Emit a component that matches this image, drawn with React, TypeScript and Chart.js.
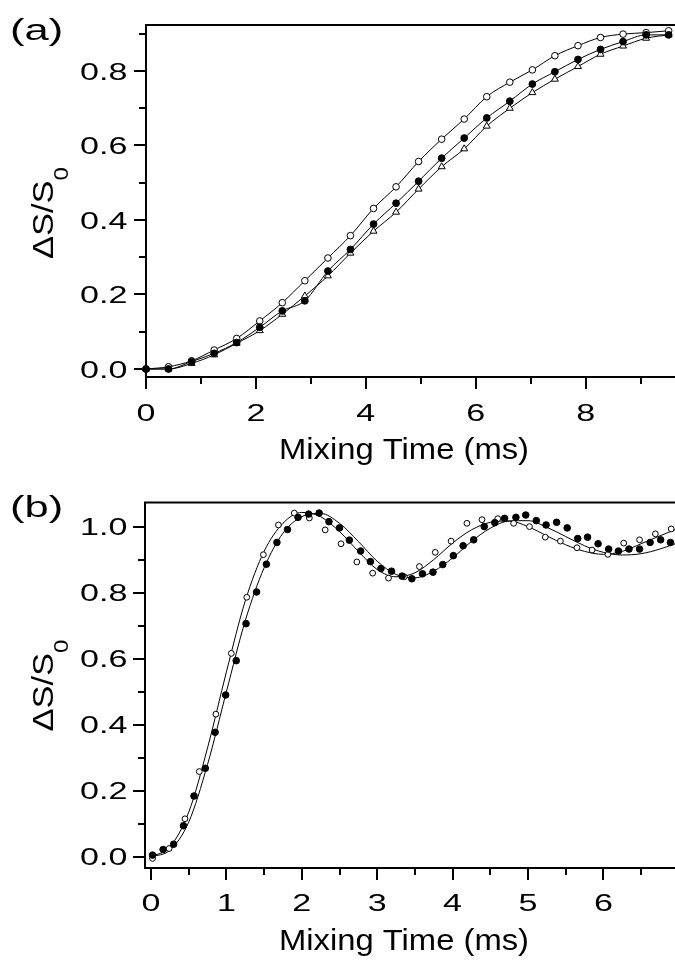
import React, { useEffect, useRef } from "react";
import { Chart, registerables } from "chart.js";

Chart.register(...registerables);

const FONT = '"Liberation Sans", Arial, Helvetica, sans-serif';

// ---------- Panel (a) ----------
const A_X = [0, 0.41, 0.83, 1.24, 1.65, 2.07, 2.48, 2.89, 3.31, 3.72, 4.14, 4.55, 4.96, 5.38, 5.79, 6.2, 6.62, 7.03, 7.44, 7.86, 8.27, 8.68, 9.1, 9.51];
const A_OPEN = [0.0, 0.006, 0.022, 0.051, 0.082, 0.129, 0.178, 0.237, 0.298, 0.358, 0.431, 0.489, 0.557, 0.617, 0.671, 0.731, 0.77, 0.803, 0.841, 0.868, 0.89, 0.899, 0.903, 0.908];
const A_FILLED = [0.0, 0.0, 0.02, 0.042, 0.071, 0.112, 0.156, 0.183, 0.263, 0.321, 0.389, 0.445, 0.504, 0.566, 0.62, 0.674, 0.719, 0.765, 0.798, 0.831, 0.858, 0.879, 0.897, 0.897];
const A_TRIANGLE = [0.0, 0.0, 0.015, 0.038, 0.069, 0.103, 0.147, 0.196, 0.25, 0.311, 0.37, 0.421, 0.483, 0.543, 0.591, 0.652, 0.7, 0.742, 0.778, 0.812, 0.845, 0.867, 0.888, 0.897];
const A_X_MAJOR = [0, 2, 4, 6, 8];
const A_X_MINOR = [1, 3, 5, 7, 9];
const A_X_LABELS = ["0", "2", "4", "6", "8"];
const A_Y_MAJOR = [0, 0.2, 0.4, 0.6, 0.8];
const A_Y_MINOR = [0.1, 0.3, 0.5, 0.7, 0.9];
const A_Y_LABELS = ["0.0", "0.2", "0.4", "0.6", "0.8"];

// ---------- Panel (b) ----------
const B_FILLED_X = [0.02, 0.16, 0.3, 0.43, 0.57, 0.72, 0.85, 0.99, 1.13, 1.26, 1.4, 1.53, 1.67, 1.81, 1.95, 2.09, 2.23, 2.36, 2.5, 2.63, 2.78, 2.91, 3.05, 3.19, 3.33, 3.46, 3.6, 3.74, 3.87, 4.01, 4.14, 4.28, 4.42, 4.56, 4.69, 4.84, 4.97, 5.11, 5.24, 5.38, 5.52, 5.66, 5.79, 5.93, 6.07, 6.2, 6.34, 6.48, 6.62, 6.76, 6.89];
const B_FILLED_Y = [0.005, 0.022, 0.038, 0.094, 0.184, 0.268, 0.377, 0.49, 0.594, 0.706, 0.802, 0.886, 0.952, 0.991, 1.028, 1.038, 1.041, 1.015, 0.996, 0.959, 0.926, 0.894, 0.873, 0.865, 0.85, 0.842, 0.857, 0.862, 0.885, 0.912, 0.942, 0.96, 1.0, 1.012, 1.025, 1.028, 1.035, 1.018, 1.005, 1.013, 0.996, 0.964, 0.968, 0.948, 0.932, 0.926, 0.932, 0.932, 0.952, 0.96, 0.952];
const B_OPEN_X = [0.02, 0.24, 0.45, 0.64, 0.86, 1.065, 1.27, 1.49, 1.69, 1.9, 2.1, 2.31, 2.52, 2.73, 2.94, 3.15, 3.36, 3.56, 3.77, 3.98, 4.19, 4.39, 4.6, 4.81, 5.02, 5.23, 5.43, 5.65, 5.85, 6.06, 6.27, 6.48, 6.69, 6.9];
const B_OPEN_Y = [-0.005, 0.025, 0.115, 0.258, 0.432, 0.616, 0.786, 0.915, 1.005, 1.041, 1.026, 0.99, 0.948, 0.893, 0.859, 0.844, 0.848, 0.879, 0.922, 0.956, 1.01, 1.021, 1.024, 1.01, 1.0, 0.968, 0.956, 0.936, 0.929, 0.916, 0.95, 0.96, 0.978, 0.993];
const B_FIT_X = [0, 0.25, 0.5, 0.75, 1.0, 1.25, 1.5, 1.75, 2.0, 2.25, 2.5, 2.75, 3.0, 3.25, 3.5, 3.75, 4.0, 4.25, 4.5, 4.75, 5.0, 5.25, 5.5, 5.75, 6.0, 6.25, 6.5, 6.75, 7.0];
const B_FIT_OPEN = [0.0, 0.03, 0.135, 0.33, 0.56, 0.775, 0.925, 1.01, 1.043, 1.03, 0.985, 0.925, 0.87, 0.848, 0.86, 0.9, 0.95, 0.99, 1.013, 1.017, 1.0, 0.972, 0.945, 0.925, 0.916, 0.925, 0.948, 0.972, 0.995];
const B_FIT_FILLED = [0.0, 0.02, 0.105, 0.28, 0.5, 0.715, 0.875, 0.98, 1.03, 1.04, 1.01, 0.955, 0.895, 0.855, 0.845, 0.865, 0.905, 0.955, 0.995, 1.017, 1.018, 0.998, 0.97, 0.942, 0.922, 0.914, 0.918, 0.932, 0.952];
const B_X_MAJOR = [0, 1, 2, 3, 4, 5, 6];
const B_X_MINOR = [0.5, 1.5, 2.5, 3.5, 4.5, 5.5, 6.5];
const B_X_LABELS = ["0", "1", "2", "3", "4", "5", "6"];
const B_Y_MAJOR = [0, 0.2, 0.4, 0.6, 0.8, 1.0];
const B_Y_MINOR = [0.1, 0.3, 0.5, 0.7, 0.9];
const B_Y_LABELS = ["0.0", "0.2", "0.4", "0.6", "0.8", "1.0"];

const pts = (xs: number[], ys: number[]) => xs.map((x, i) => ({ x, y: ys[i] }));

function drawText(ctx: CanvasRenderingContext2D, text: string, x: number, y: number, font: string, align: CanvasTextAlign, sx: number) {
  ctx.save();
  ctx.translate(x, y);
  ctx.scale(sx, 1);
  ctx.font = font;
  ctx.textAlign = align;
  ctx.textBaseline = "alphabetic";
  ctx.fillText(text, 0, 0);
  ctx.restore();
}

function framePlugin(cfg: any) {
  return {
    id: "frame_" + cfg.panel,
    afterDraw(chart: any) {
      const ctx: CanvasRenderingContext2D = chart.ctx;
      const { left, right, top, bottom } = chart.chartArea;
      const xs = chart.scales.x;
      const ys = chart.scales.y;
      ctx.save();
      ctx.strokeStyle = "#000";
      ctx.fillStyle = "#000";
      ctx.lineWidth = 2;
      ctx.beginPath();
      ctx.moveTo(left, top);
      ctx.lineTo(right, top);
      ctx.lineTo(right, bottom);
      ctx.lineTo(left, bottom);
      ctx.closePath();
      ctx.stroke();
      ctx.beginPath();
      cfg.yMajor.forEach((v: number) => {
        const y = Math.round(ys.getPixelForValue(v));
        ctx.moveTo(left - 12, y);
        ctx.lineTo(left, y);
      });
      cfg.yMinor.forEach((v: number) => {
        const y = Math.round(ys.getPixelForValue(v));
        ctx.moveTo(left - 7, y);
        ctx.lineTo(left, y);
      });
      cfg.xMajor.forEach((v: number) => {
        const x = Math.round(xs.getPixelForValue(v));
        ctx.moveTo(x, bottom);
        ctx.lineTo(x, bottom + 12);
      });
      cfg.xMinor.forEach((v: number) => {
        const x = Math.round(xs.getPixelForValue(v));
        ctx.moveTo(x, bottom);
        ctx.lineTo(x, bottom + 7);
      });
      ctx.stroke();

      const tickFont = `24px ${FONT}`;
      cfg.yMajor.forEach((v: number, i: number) => {
        drawText(ctx, cfg.yLabels[i], 127.5, ys.getPixelForValue(v) + 8.6, tickFont, "right", 1.42);
      });
      cfg.xMajor.forEach((v: number, i: number) => {
        drawText(ctx, cfg.xLabels[i], xs.getPixelForValue(v), cfg.xTickBaseline, tickFont, "center", 1.42);
      });
      drawText(ctx, "Mixing Time (ms)", 404, cfg.xTitleBaseline, `29px ${FONT}`, "center", 1.13);
      drawText(ctx, cfg.panel, 10, cfg.panelBaseline, `30px ${FONT}`, "left", 1.45);

      // y-axis title: ΔS/S with subscript 0
      ctx.save();
      ctx.translate(53.3, cfg.yTitleCenter);
      ctx.rotate(-Math.PI / 2);
      ctx.scale(1.15, 1);
      ctx.textAlign = "left";
      ctx.textBaseline = "alphabetic";
      ctx.font = `30px ${FONT}`;
      const w1 = ctx.measureText("ΔS/S").width;
      ctx.font = `21px ${FONT}`;
      const w2 = ctx.measureText("0").width;
      const start = -(w1 + w2) / 2;
      ctx.font = `30px ${FONT}`;
      ctx.fillText("ΔS/S", start, 0);
      ctx.font = `21px ${FONT}`;
      ctx.fillText("0", start + w1, 15);
      ctx.restore();

      ctx.restore();
    },
  };
}

const marker = (data: any, style: string, r: number, fill: string) => ({
  data,
  showLine: false,
  pointStyle: style,
  pointRadius: r,
  pointBackgroundColor: fill,
  pointBorderColor: "#000",
  pointBorderWidth: 1,
  clip: false,
});

const fitLine = (data: any) => ({
  data,
  showLine: true,
  pointRadius: 0,
  borderColor: "#000",
  borderWidth: 1,
  cubicInterpolationMode: "monotone",
  fill: false,
});

const PANEL_A = {
  panel: "(a)",
  padding: { left: 146, top: 25, right: 7, bottom: 103 },
  x: { min: 0, max: 9.68 },
  y: { min: -0.0215, max: 0.9235 },
  xMajor: A_X_MAJOR,
  xMinor: A_X_MINOR,
  xLabels: A_X_LABELS,
  yMajor: A_Y_MAJOR,
  yMinor: A_Y_MINOR,
  yLabels: A_Y_LABELS,
  xTickBaseline: 420.7,
  xTitleBaseline: 459,
  panelBaseline: 40,
  yTitleCenter: 213,
  datasets: [
    marker(pts(A_X, A_FILLED), "circle", 3.4, "#000"),
    marker(pts(A_X, A_OPEN), "circle", 3.3, "#fff"),
    marker(pts(A_X, A_TRIANGLE), "triangle", 4, "#fff"),
    fitLine(pts(A_X, A_OPEN)),
    fitLine(pts(A_X, A_FILLED)),
    fitLine(pts(A_X, A_TRIANGLE)),
  ],
};

const PANEL_B = {
  panel: "(b)",
  padding: { left: 145, top: 22.5, right: 7, bottom: 92 },
  x: { min: -0.08, max: 6.99 },
  y: { min: -0.034, max: 1.073 },
  xMajor: B_X_MAJOR,
  xMinor: B_X_MINOR,
  xLabels: B_X_LABELS,
  yMajor: B_Y_MAJOR,
  yMinor: B_Y_MINOR,
  yLabels: B_Y_LABELS,
  xTickBaseline: 430.7,
  xTitleBaseline: 470,
  panelBaseline: 37,
  yTitleCenter: 205.5,
  datasets: [
    marker(pts(B_FILLED_X, B_FILLED_Y), "circle", 3.3, "#000"),
    marker(pts(B_OPEN_X, B_OPEN_Y), "circle", 2.9, "#fff"),
    fitLine(pts(B_FIT_X, B_FIT_OPEN)),
    fitLine(pts(B_FIT_X, B_FIT_FILLED)),
  ],
};

function Panel({ cfg, top }: { cfg: any; top: number }) {
  const ref = useRef<HTMLCanvasElement>(null);
  useEffect(() => {
    const chart = new Chart(ref.current as HTMLCanvasElement, {
      type: "scatter",
      data: { datasets: cfg.datasets },
      options: {
        animation: false,
        responsive: false,
        devicePixelRatio: 1,
        events: [],
        layout: { padding: cfg.padding },
        plugins: { legend: { display: false }, tooltip: { enabled: false } },
        scales: {
          x: { type: "linear", display: false, min: cfg.x.min, max: cfg.x.max },
          y: { type: "linear", display: false, min: cfg.y.min, max: cfg.y.max },
        },
      } as any,
      plugins: [framePlugin(cfg)],
    });
    return () => chart.destroy();
  }, []);
  return (
    <canvas
      ref={ref}
      width={685}
      height={480}
      style={{ position: "absolute", left: 0, top, width: 685, height: 480 }}
    />
  );
}

export default function App() {
  return (
    <div
      style={{
        position: "absolute",
        left: 0,
        top: 0,
        width: 675,
        height: 960,
        overflow: "hidden",
        background: "#fff",
      }}
    >
      <Panel cfg={PANEL_A} top={0} />
      <Panel cfg={PANEL_B} top={480} />
    </div>
  );
}
